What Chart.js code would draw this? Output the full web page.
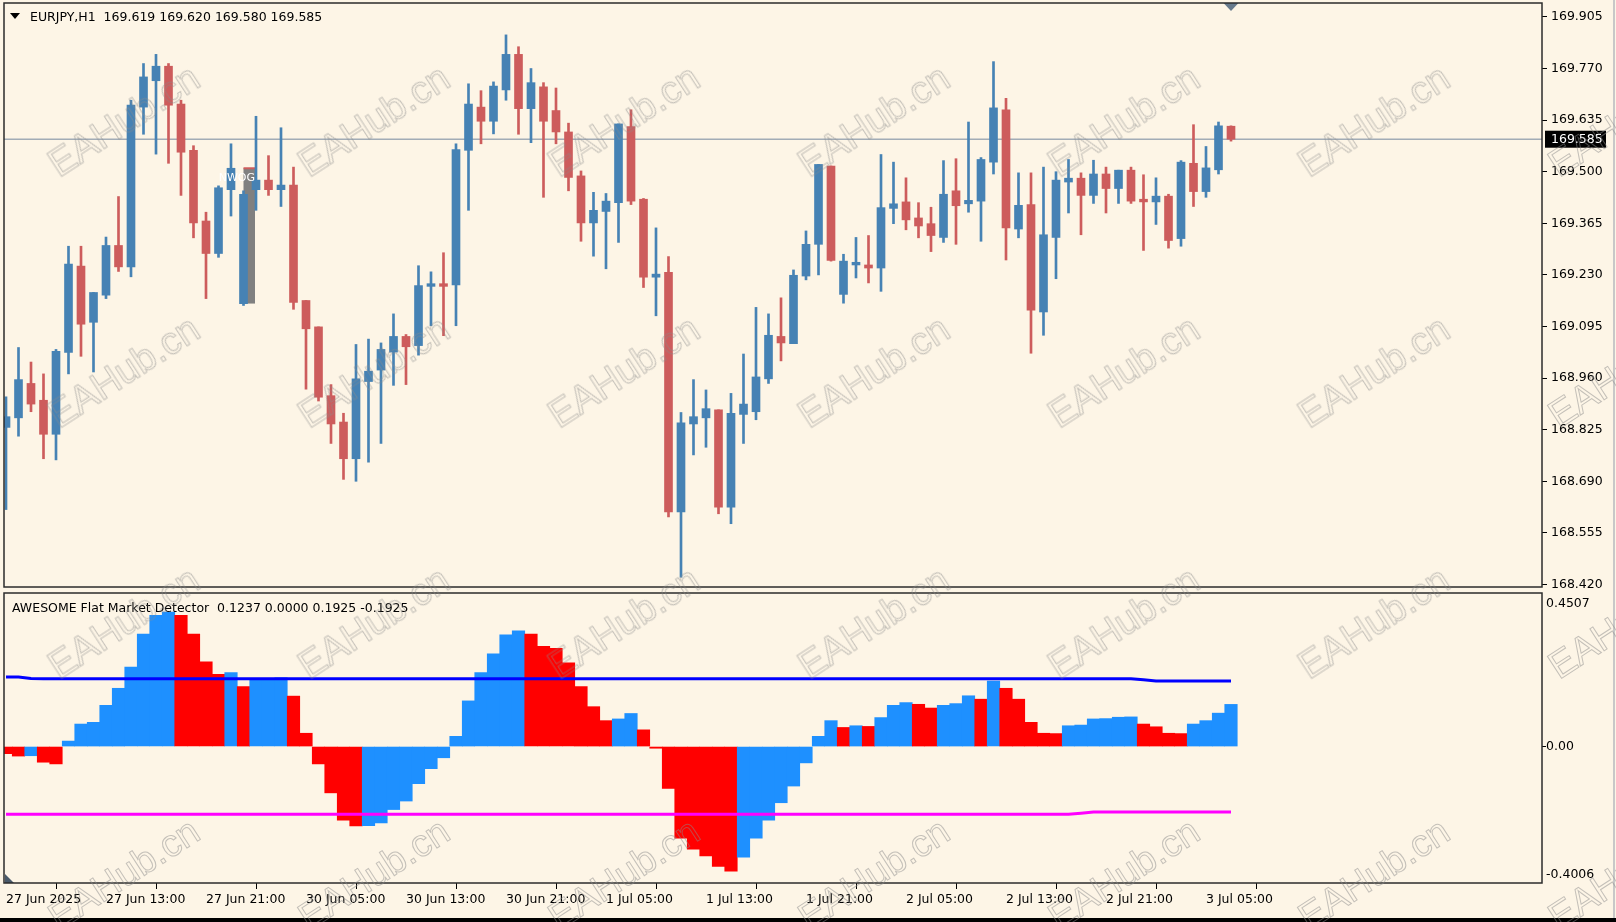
<!DOCTYPE html>
<html>
<head>
<meta charset="utf-8">
<script src="https://cdn.jsdelivr.net/npm/chart.js@4.4.0/dist/chart.umd.min.js"></script>
<style>
html,body{margin:0;padding:0;background:#fdf5e6;}
#wrap{position:relative;width:1616px;height:922px;overflow:hidden;background:#fdf5e6;}
#wrap canvas{position:absolute;left:0;}
#priceCanvas{top:0;}
#aoCanvas{top:590px;}
.lbl{position:absolute;font-family:"DejaVu Sans";font-size:12.5px;color:#000;white-space:pre;line-height:15px;}
.wm{position:absolute;font-family:"Liberation Sans";font-size:38px;color:transparent;-webkit-text-stroke:1px rgba(140,140,140,0.5);transform:translate(-50%,-50%) rotate(-33deg);white-space:nowrap;pointer-events:none;}
#tri{position:absolute;left:10px;top:13px;width:0;height:0;border-left:5px solid transparent;border-right:5px solid transparent;border-top:6px solid #000;}
#bottomBar{position:absolute;left:0;top:918px;width:1616px;height:4px;background:#000;}
#rightEdge{position:absolute;left:1613px;top:0;width:2px;height:918px;background:#c8c8c8;}
</style>
</head>
<body>
<div id="wrap">
  <canvas id="priceCanvas" width="1616" height="590"></canvas>
  <canvas id="aoCanvas" width="1616" height="332"></canvas>
  <div id="tri"></div>
  <div class="lbl" style="left:30px;top:9px;">EURJPY,H1  169.619 169.620 169.580 169.585</div>
  <div class="lbl" style="left:12px;top:600px;">AWESOME Flat Market Detector  0.1237 0.0000 0.1925 -0.1925</div>
  <div id="rightEdge"></div>
  <div id="bottomBar"></div>
</div>
<script>
// EURJPY H1, bougies de 27 Jun 05:00 a 3 Jul 02:00
const opens = [168.831,168.856,168.946,168.902,168.813,169.027,169.253,169.106,169.177,169.307,
  169.251,169.669,169.738,169.776,169.677,169.556,169.371,169.286,169.453,169.155,
  169.453,169.478,169.453,169.465,169.163,169.094,168.914,168.845,168.749,168.951,
  168.981,169.028,169.069,169.045,169.200,169.207,169.204,169.556,169.669,169.632,
  169.714,169.807,169.665,169.722,169.660,169.604,169.489,169.366,169.396,169.419,
  169.618,169.428,169.224,169.237,168.610,168.840,168.856,168.877,168.622,168.865,
  168.872,168.958,169.069,169.050,169.227,169.310,169.515,169.179,169.256,169.256,
  169.248,169.404,169.421,169.379,169.364,169.328,169.450,169.416,169.423,169.525,
  169.662,169.350,169.414,169.133,169.328,169.473,169.483,169.438,169.494,169.456,
  169.504,169.428,169.421,169.436,169.325,169.522,169.448,169.505,169.619];
const highs = [168.911,169.040,169.002,168.971,169.035,169.305,169.305,169.184,169.329,169.435,
  169.687,169.783,169.807,169.783,169.687,169.568,169.394,169.463,169.573,169.450,
  169.645,169.542,169.615,169.512,169.163,169.094,168.943,168.868,169.048,169.062,
  169.052,169.128,169.074,169.254,169.238,169.288,169.573,169.730,169.712,169.735,
  169.858,169.827,169.770,169.733,169.719,169.627,169.502,169.446,169.443,169.625,
  169.662,169.430,169.353,169.278,168.870,168.956,168.929,168.877,168.920,169.023,
  169.145,169.128,169.170,169.243,169.345,169.519,169.515,169.284,169.328,169.333,
  169.545,169.525,169.484,169.419,169.407,169.529,169.534,169.630,169.537,169.788,
  169.692,169.497,169.497,169.512,169.500,169.532,169.497,169.530,169.512,169.504,
  169.512,169.492,169.484,169.441,169.529,169.623,169.566,169.630,169.620];
const lows = [168.616,168.808,168.872,168.749,168.746,168.971,169.017,168.976,169.168,169.239,
  169.225,169.598,169.546,169.522,169.438,169.327,169.168,169.276,169.384,169.150,
  169.399,169.438,169.409,169.140,168.931,168.900,168.789,168.695,168.690,168.740,
  168.789,168.941,168.943,169.020,169.097,169.071,169.097,169.399,169.573,169.599,
  169.687,169.598,169.576,169.433,169.573,169.450,169.318,169.279,169.246,169.315,
  169.414,169.197,169.123,168.597,168.439,168.759,168.779,168.605,168.579,168.789,
  168.851,168.946,169.005,169.050,169.217,169.230,169.266,169.156,169.222,169.209,
  169.187,169.364,169.348,169.327,169.291,169.315,169.310,169.394,169.318,169.494,
  169.269,169.327,169.025,169.072,169.220,169.392,169.335,169.417,169.392,169.417,
  169.417,169.294,169.362,169.300,169.305,169.409,169.433,169.494,169.580];
const closes = [168.859,168.956,168.892,168.813,169.030,169.258,169.101,169.184,169.307,169.251,
  169.674,169.748,169.776,169.674,169.551,169.366,169.286,169.458,169.509,169.441,
  169.478,169.453,169.465,169.158,169.089,168.910,168.840,168.749,168.958,168.978,
  169.035,169.069,169.042,169.202,169.207,169.200,169.558,169.677,169.632,169.724,
  169.807,169.665,169.733,169.632,169.604,169.485,169.366,169.399,169.423,169.625,
  169.423,169.224,169.232,168.610,168.843,168.859,168.880,168.622,168.868,168.892,
  168.963,169.072,169.052,169.229,169.310,169.519,169.268,169.266,169.263,169.248,
  169.406,169.416,169.374,169.358,169.333,169.441,169.411,169.425,169.532,169.667,
  169.353,169.412,169.138,169.335,169.478,169.483,169.438,169.494,169.456,169.504,
  169.423,169.421,169.436,169.320,169.525,169.448,169.510,169.620,169.585];

// indicateur AWESOME (histogramme) + niveaux
const aoValues = [-0.021,-0.028,-0.027,-0.046,-0.051,0.016,0.066,0.071,0.121,0.171,
  0.233,0.330,0.385,0.395,0.385,0.330,0.249,0.212,0.217,0.176,
  0.197,0.198,0.202,0.148,0.039,-0.051,-0.136,-0.216,-0.233,-0.232,
  -0.224,-0.185,-0.160,-0.109,-0.065,-0.033,0.030,0.134,0.217,0.272,
  0.328,0.340,0.330,0.294,0.288,0.246,0.176,0.117,0.076,0.081,
  0.097,0.049,-0.005,-0.123,-0.269,-0.301,-0.321,-0.352,-0.366,-0.325,
  -0.269,-0.216,-0.165,-0.116,-0.048,0.030,0.076,0.056,0.061,0.059,
  0.085,0.121,0.129,0.124,0.113,0.121,0.126,0.149,0.139,0.192,
  0.171,0.139,0.071,0.039,0.038,0.061,0.063,0.081,0.082,0.086,
  0.087,0.066,0.058,0.039,0.038,0.066,0.076,0.098,0.1237];
const aoUp = [0,0,1,0,0,1,1,1,1,1, 1,1,1,1,0,0,0,0,1,0, 1,1,1,0,0,0,0,0,0,1,
  1,1,1,1,1,1,1,1,1,1, 1,1,0,0,0,0,0,0,0,1, 1,0,0,0,0,0,0,0,0,1,
  1,1,1,1,1,1,1,0,1,0, 1,1,1,0,0,1,1,1,0,1, 0,0,0,0,0,1,1,1,1,1,
  1,0,0,0,0,1,1,1,1];
const upperLevel = [0.204,0.204,0.200,0.199,0.199,0.199,0.199,0.199,0.199,0.199,
  0.199,0.199,0.199,0.199,0.199,0.199,0.199,0.199,0.199,0.199,
  0.199,0.199,0.199,0.199,0.199,0.199,0.199,0.199,0.199,0.199,
  0.199,0.199,0.199,0.199,0.199,0.199,0.199,0.199,0.199,0.199,
  0.199,0.199,0.199,0.199,0.199,0.199,0.199,0.199,0.199,0.199,
  0.199,0.199,0.199,0.199,0.199,0.199,0.199,0.199,0.199,0.199,
  0.199,0.199,0.199,0.199,0.199,0.199,0.199,0.199,0.199,0.199,
  0.199,0.199,0.199,0.199,0.199,0.199,0.199,0.199,0.199,0.199,
  0.199,0.199,0.199,0.199,0.199,0.199,0.199,0.199,0.199,0.199,
  0.199,0.196,0.1925,0.1925,0.1925,0.1925,0.1925,0.1925,0.1925];
const lowerLevel = [-0.199,-0.199,-0.199,-0.199,-0.199,-0.199,-0.199,-0.199,-0.199,-0.199,
  -0.199,-0.199,-0.199,-0.199,-0.199,-0.199,-0.199,-0.199,-0.199,-0.199,
  -0.199,-0.199,-0.199,-0.199,-0.199,-0.199,-0.199,-0.199,-0.199,-0.199,
  -0.199,-0.199,-0.199,-0.199,-0.199,-0.199,-0.199,-0.199,-0.199,-0.199,
  -0.199,-0.199,-0.199,-0.199,-0.199,-0.199,-0.199,-0.199,-0.199,-0.199,
  -0.199,-0.199,-0.199,-0.199,-0.199,-0.199,-0.199,-0.199,-0.199,-0.199,
  -0.199,-0.199,-0.199,-0.199,-0.199,-0.199,-0.199,-0.199,-0.199,-0.199,
  -0.199,-0.199,-0.199,-0.199,-0.199,-0.199,-0.199,-0.199,-0.199,-0.199,
  -0.199,-0.199,-0.199,-0.199,-0.199,-0.199,-0.196,-0.1925,-0.1925,-0.1925,
  -0.1925,-0.1925,-0.1925,-0.1925,-0.1925,-0.1925,-0.1925,-0.1925,-0.1925];

// axes
const timeTickIdx = [0,8,16,24,32,40,48,56,64,72,80,88,96];
const timeTickLabels = ['27 Jun 2025','27 Jun 13:00','27 Jun 21:00','30 Jun 05:00','30 Jun 13:00','30 Jun 21:00',
  '1 Jul 05:00','1 Jul 13:00','1 Jul 21:00','2 Jul 05:00','2 Jul 13:00','2 Jul 21:00','3 Jul 05:00'];
const priceTicks = [169.905,169.770,169.635,169.500,169.365,169.230,169.095,168.960,168.825,168.690,168.555,168.420];
const aoTickValues = [0.4507,0,-0.4006];
const aoTickLabels = ['0.4507','0.00','-0.4006'];
const bidPrice = 169.585;
const nwogBar = 19; // ouverture de la semaine (gap vendredi -> lundi)

const X_MIN = -0.16, X_MAX = 122.88;
const PRICE_MIN = 168.4134, PRICE_MAX = 169.9414;
const AO_MIN = -0.4006, AO_MAX = 0.4507;

const BLUE = '#4682b4', RED = '#cd5c5c';
const FONT = {family: 'DejaVu Sans', size: 12.5};
const AO_TOP_PAD = 3, AO_AXIS_H = 39;
const idx = opens.map((_, i) => i);
const candleColors = idx.map(i => closes[i] >= opens[i] ? BLUE : RED);

// pas de marge auto pour les etiquettes, le cadre doit coller au canvas
function noPad(s) {
    s.paddingTop = 0; s.paddingBottom = 0;
    s.paddingLeft = 0; s.paddingRight = 0;
}

// cadre + triangles
const framePlugin = {
    id: 'frame',
    afterDraw(chart) {
        const {ctx, chartArea: a} = chart;
        ctx.save();
        ctx.strokeStyle = '#2b2b2b';
        ctx.lineWidth = 1.5;
        ctx.strokeRect(a.left, a.top, a.right - a.left, a.bottom - a.top);
        ctx.restore();
    }
};

const priceExtras = {
    id: 'priceExtras',
    beforeDatasetsDraw(chart) {
        // boite NWOG
        const {ctx} = chart;
        const x = chart.scales.x, y = chart.scales.y;
        const x0 = x.getPixelForValue(nwogBar), x1 = x.getPixelForValue(nwogBar + 1) - 1;
        const yTop = y.getPixelForValue(closes[nwogBar - 1]), yBot = y.getPixelForValue(opens[nwogBar]);
        ctx.save();
        ctx.fillStyle = '#808080';
        ctx.fillRect(x0, yTop, x1 - x0, yBot - yTop);
        ctx.fillStyle = RED;
        ctx.fillRect(x0, yTop - 1, x1 - x0, 2);
        ctx.restore();
    },
    afterDatasetsDraw(chart) {
        const {ctx} = chart;
        const x = chart.scales.x, y = chart.scales.y;
        const x1 = x.getPixelForValue(nwogBar + 1) - 1;
        const yTop = y.getPixelForValue(closes[nwogBar - 1]);
        ctx.save();
        ctx.fillStyle = '#ffffff';
        ctx.font = '11px "DejaVu Sans"';
        ctx.textAlign = 'right';
        ctx.textBaseline = 'middle';
        ctx.fillText('NWOG', x1, yTop + 10);
        ctx.restore();
    },
    afterDraw(chart) {
        const {ctx, chartArea: a} = chart;
        const x = chart.scales.x, y = chart.scales.y;
        // etiquette du prix bid
        const yb = y.getPixelForValue(bidPrice);
        ctx.save();
        ctx.fillStyle = '#000';
        ctx.fillRect(a.right + 3, yb - 8.5, 61, 17);
        ctx.fillStyle = '#fff';
        ctx.font = '12.5px "DejaVu Sans"';
        ctx.textBaseline = 'middle';
        ctx.fillText(bidPrice.toFixed(3), a.right + 9, yb + 0.5);
        // triangle de decalage
        const xs = x.getPixelForValue(opens.length - 1);
        ctx.fillStyle = '#677a8c';
        ctx.beginPath();
        ctx.moveTo(xs - 7.5, a.top);
        ctx.lineTo(xs + 7.5, a.top);
        ctx.lineTo(xs, a.top + 8);
        ctx.closePath();
        ctx.fill();
        ctx.restore();
    }
};

const aoExtras = {
    id: 'aoExtras',
    afterDraw(chart) {
        const {ctx, chartArea: a} = chart;
        ctx.save();
        ctx.fillStyle = '#4a5a6a';
        ctx.beginPath();
        ctx.moveTo(a.left + 1, a.bottom - 9);
        ctx.lineTo(a.left + 1, a.bottom);
        ctx.lineTo(a.left + 10, a.bottom);
        ctx.closePath();
        ctx.fill();
        ctx.restore();
    }
};

new Chart(document.getElementById('priceCanvas'), {
    type: 'bar',
    data: {
        datasets: [
            {
                type: 'line', label: 'Bid', order: 3,
                data: [{x: X_MIN, y: bidPrice}, {x: X_MAX, y: bidPrice}],
                borderColor: '#a2acb6', borderWidth: 1.5, pointRadius: 0
            },
            {
                label: 'Meches', order: 2, grouped: false,
                data: idx.map(i => ({x: i, y: [lows[i], highs[i]]})),
                backgroundColor: candleColors, barThickness: 2
            },
            {
                label: 'Corps', order: 1, grouped: false,
                data: idx.map(i => ({x: i, y: [opens[i], closes[i]]})),
                backgroundColor: candleColors, barThickness: 8, minBarLength: 2
            }
        ]
    },
    options: {
        responsive: false,
        animation: false,
        layout: {padding: {left: 4, top: 3, bottom: 3, right: 0}},
        plugins: {legend: {display: false}, tooltip: {enabled: false}},
        scales: {
            x: {type: 'linear', min: X_MIN, max: X_MAX, offset: false, display: false},
            y: {
                position: 'right', min: PRICE_MIN, max: PRICE_MAX,
                afterFit: s => { s.width = 74; noPad(s); },
                afterBuildTicks: s => { s.ticks = priceTicks.map(v => ({value: v})); },
                ticks: {callback: v => v.toFixed(3), font: FONT, color: '#000', padding: 4},
                grid: {drawOnChartArea: false, tickLength: 5, color: '#000'},
                border: {display: false}
            }
        }
    },
    plugins: [priceExtras, framePlugin]
});

new Chart(document.getElementById('aoCanvas'), {
    type: 'bar',
    data: {
        datasets: [
            {
                type: 'line', label: 'Haut', order: 0,
                data: idx.map(i => ({x: i, y: upperLevel[i]})),
                borderColor: '#0000ff', borderWidth: 3, pointRadius: 0
            },
            {
                type: 'line', label: 'Bas', order: 0,
                data: idx.map(i => ({x: i, y: lowerLevel[i]})),
                borderColor: '#ff00ff', borderWidth: 3, pointRadius: 0
            },
            {
                label: 'AO', order: 1, grouped: false,
                data: idx.map(i => ({x: i, y: aoValues[i]})),
                backgroundColor: aoUp.map(u => u ? '#1e90ff' : '#ff0000'),
                barPercentage: 1, categoryPercentage: 1
            }
        ]
    },
    options: {
        responsive: false,
        animation: false,
        layout: {padding: {left: 4, top: AO_TOP_PAD, bottom: 0, right: 0}},
        plugins: {legend: {display: false}, tooltip: {enabled: false}},
        scales: {
            x: {
                type: 'linear', min: X_MIN, max: X_MAX, offset: false,
                afterFit: s => { s.height = AO_AXIS_H; noPad(s); },
                afterBuildTicks: s => { s.ticks = timeTickIdx.map(v => ({value: v})); },
                ticks: {
                    callback: (v, i) => timeTickLabels[i],
                    align: 'start', maxRotation: 0, autoSkip: false,
                    font: FONT, color: '#000', padding: 3
                },
                grid: {drawOnChartArea: false, tickLength: 6, color: '#000'},
                border: {display: false}
            },
            y: {
                position: 'right', min: AO_MIN, max: AO_MAX,
                afterFit: s => { s.width = 74; noPad(s); },
                afterBuildTicks: s => {
                    // etiquettes du haut et du bas decalees vers l'interieur comme MT4
                    const plotH = s.chart.height - AO_TOP_PAD - AO_AXIS_H;
                    const perPx = (AO_MAX - AO_MIN) / plotH;
                    s.ticks = aoTickValues.map((v, i) => {
                        if (i === 0) return {value: v - 11 * perPx};
                        if (i === aoTickValues.length - 1) return {value: v + 8 * perPx};
                        return {value: v};
                    });
                },
                ticks: {callback: (v, i) => aoTickLabels[i], font: FONT, color: '#000', padding: 0},
                grid: {
                    drawOnChartArea: false, tickLength: 4,
                    color: c => (c.tick && c.tick.value === 0) ? '#000' : 'rgba(0,0,0,0)'
                },
                border: {display: false}
            }
        }
    },
    plugins: [aoExtras, framePlugin]
});

// filigranes EAHub.cn
const wrap = document.getElementById('wrap');
for (let r = 0; r < 4; r++) {
    for (let c = 0; c < 7; c++) {
        const d = document.createElement('div');
        d.className = 'wm';
        d.textContent = 'EAHub.cn';
        d.style.left = (124 + c * 250) + 'px';
        d.style.top = (121 + r * 251) + 'px';
        wrap.appendChild(d);
    }
}
</script>
</body>
</html>
